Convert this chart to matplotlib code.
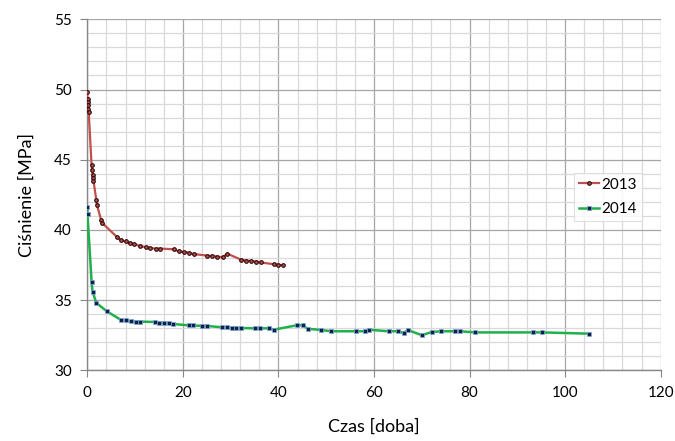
import matplotlib.pyplot as plt
from matplotlib.ticker import MultipleLocator

plt.rcParams['font.family'] = ['Lato', 'DejaVu Sans']

# 2013 series
x_2013 = [0, 0.05, 0.1, 0.15, 0.2, 0.3, 0.9, 1.0, 1.1, 1.2, 1.3, 1.9, 2.0, 2.9, 3.1,
          6.2, 7.0, 8.0, 9.0, 9.7, 11.1, 12.2, 13.2, 14.3, 15.3, 18.1, 19.2, 20.2,
          21.3, 22.3, 25.1, 26.2, 27.2, 28.3, 29.3, 32.1, 33.2, 34.2, 35.3, 36.3,
          39.0, 40.0, 41.0]
y_2013 = [49.8, 49.3, 49.1, 48.9, 48.6, 48.4, 44.6, 44.3, 43.9, 43.7, 43.5, 42.1, 41.8, 40.7, 40.5,
          39.5, 39.25, 39.18, 39.06, 39.02, 38.83, 38.78, 38.71, 38.67, 38.67, 38.62, 38.47, 38.43,
          38.38, 38.28, 38.17, 38.15, 38.1, 38.05, 38.31, 37.89, 37.82, 37.79, 37.75, 37.68,
          37.56, 37.51, 37.49]

# 2014 series
x_2014 = [0, 0.05, 0.9, 1.1, 1.9, 4.1, 7.0, 8.1, 9.1, 10.1, 11.1, 14.2, 15.1, 16.1, 17.0, 18.0,
          21.2, 22.1, 24.1, 25.1, 28.2, 29.2, 30.2, 31.1, 32.1, 35.1, 36.1, 38.1, 39.1,
          43.9, 45.1, 46.1, 49.0, 51.0, 56.2, 58.1, 59.0, 63.1, 65.1, 66.2, 67.1,
          70.0, 72.1, 74.1, 77.0, 78.1, 81.1, 93.3, 95.2, 105.0]
y_2014 = [41.6, 41.1, 36.3, 35.6, 34.8, 34.2, 33.6, 33.55, 33.48, 33.47, 33.47, 33.44, 33.39, 33.37, 33.37, 33.3,
          33.2, 33.2, 33.16, 33.16, 33.06, 33.06, 33.01, 33.01, 33.01, 32.99, 32.99, 32.99, 32.9,
          33.21, 33.21, 32.96, 32.87, 32.78, 32.78, 32.78, 32.89, 32.78, 32.78, 32.66, 32.87,
          32.5, 32.73, 32.78, 32.78, 32.78, 32.7, 32.7, 32.7, 32.61]

fig = plt.figure(figsize=(6.75, 4.41), dpi=100)
ax = fig.add_axes([0.1293, 0.1603, 0.8495, 0.7959])

ax.plot(x_2013, y_2013, color='#C0504D', lw=1.6, marker='o', ms=2.6,
        mfc='#C0504D', mec='#2a0a0a', mew=0.8, label='2013', zorder=3)
ax.plot(x_2014, y_2014, color='#1FB04C', lw=1.8, marker='s', ms=2.6,
        mfc='#10204a', mec='#7fa8d8', mew=0.5, label='2014', zorder=3)

ax.set_xlim(0, 120)
ax.set_ylim(30, 55)
ax.xaxis.set_major_locator(MultipleLocator(20))
ax.xaxis.set_minor_locator(MultipleLocator(4))
ax.yaxis.set_major_locator(MultipleLocator(5))
ax.yaxis.set_minor_locator(MultipleLocator(1))

ax.grid(which='major', color='#A6A6A6', lw=0.9)
ax.grid(which='minor', color='#D9D9D9', lw=0.9)
ax.set_axisbelow(True)

for s in ['top', 'right']:
    ax.spines[s].set_visible(False)
for s in ['left', 'bottom']:
    ax.spines[s].set_color('#868686')
    ax.spines[s].set_linewidth(1.0)

ax.tick_params(which='major', direction='out', length=5, color='#868686',
               labelsize=11, pad=6)
ax.tick_params(which='minor', length=0)

ax.set_xlabel('Czas [doba]', fontsize=13, labelpad=14)
ax.set_ylabel('Ciśnienie [MPa]', fontsize=13, labelpad=14)

leg = ax.legend(loc='upper left', bbox_to_anchor=(0.849, 0.562), fontsize=11,
                frameon=True, fancybox=False, edgecolor='#D9D9D9',
                handlelength=1.3, handletextpad=0.2, borderpad=0.3,
                borderaxespad=0, labelspacing=0.7, markerscale=1.0)
leg.get_frame().set_linewidth(0.8)

plt.savefig('out.png', dpi=100)
